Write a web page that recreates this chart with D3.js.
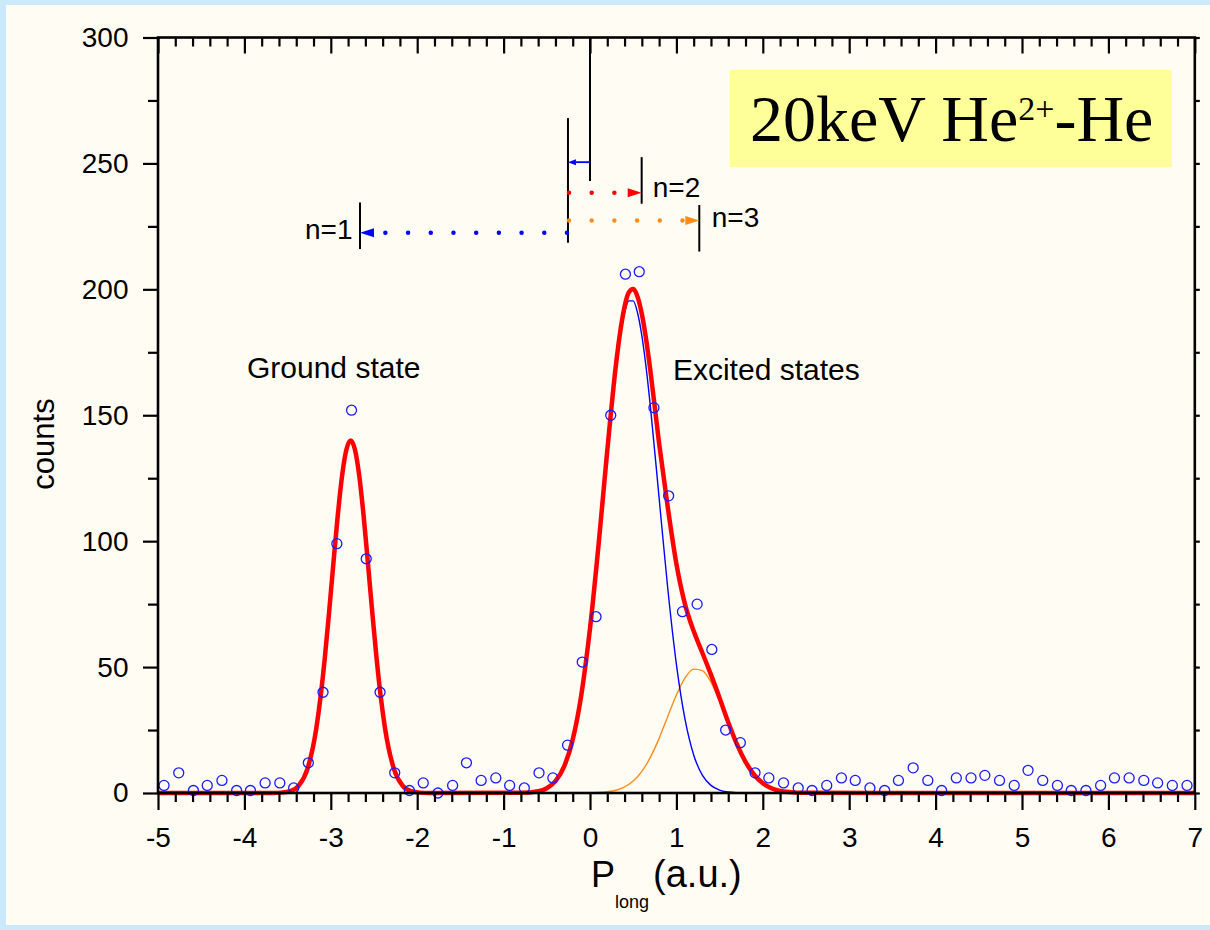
<!DOCTYPE html>
<html><head><meta charset="utf-8">
<script src="https://cdn.jsdelivr.net/npm/d3@7"></script>
<style>body{margin:0;background:#cce8fb;} svg{display:block}</style>
</head><body><svg id="c" width="1210" height="930"></svg>
<script>
// ---------- data ----------
const xTicks = [-5,-4,-3,-2,-1,0,1,2,3,4,5,6,7];
const yTicks = [0,50,100,150,200,250,300];

const pointX = [-4.93,-4.76,-4.59,-4.43,-4.26,-4.09,-3.93,-3.76,-3.59,-3.43,-3.26,-3.09,-2.93,-2.76,-2.59,-2.43,-2.26,-2.09,-1.93,-1.76,-1.59,-1.43,-1.26,-1.09,-0.93,-0.76,-0.59,-0.43,-0.26,-0.09,0.07,0.24,0.41,0.57,0.74,0.91,1.07,1.24,1.41,1.57,1.74,1.91,2.07,2.24,2.41,2.57,2.74,2.91,3.07,3.24,3.41,3.57,3.74,3.91,4.07,4.24,4.41,4.57,4.74,4.91,5.07,5.24,5.41,5.57,5.74,5.91,6.07,6.24,6.41,6.57,6.74,6.91];
const pointCounts = [3,8,1,3,5,1,1,4,4,2,12,40,99,152,93,40,8,1,4,0,3,12,5,6,3,2,8,6,19,52,70,150,206,207,153,118,72,75,57,25,20,8,6,4,2,1,3,6,5,2,1,5,10,5,1,6,6,7,5,3,9,5,3,1,1,3,6,6,5,4,3,3];

// total fit (thick red)
const fitX = [-5,-3.67,-3.57,-3.47,-3.37,-3.27,-3.17,-3.12,-3.07,-3.02,-2.97,-2.92,-2.87,-2.82,-2.77,-2.72,-2.67,-2.62,-2.57,-2.52,-2.47,-2.42,-2.37,-2.27,-2.17,-2.07,-1.97,-1.87,-0.8,-0.6,-0.5,-0.4,-0.3,-0.2,-0.1,0,0.1,0.2,0.3,0.35,0.4,0.45,0.5,0.55,0.6,0.65,0.7,0.8,0.9,1.0,1.1,1.2,1.3,1.4,1.5,1.6,1.7,1.8,1.9,2.0,2.1,2.2,2.3,2.4,2.5,7];
const fitTotal = [0,0.02,0.15,0.73,2.95,9.6,25.2,37.7,53.4,71.7,91.2,110.0,125.8,136.3,140,136.3,125.8,110.0,91.2,71.7,53.4,37.7,25.2,9.6,2.95,0.73,0.15,0.02,0.07,0.7,1.9,4.7,10.5,21.2,39.1,65.3,98.9,136.0,169.9,183.2,193.1,198.8,200.1,197.1,190.2,180.0,167.4,138.8,113.5,91.0,74.9,64.3,55.7,47.0,37.7,28.1,19.4,12.4,7.25,3.89,1.91,0.86,0.36,0.14,0.05,0];

// main excited-state component (thin blue)
const blueX = [-5,-0.8,-0.6,-0.5,-0.4,-0.3,-0.2,-0.1,0,0.1,0.2,0.3,0.35,0.4,0.45,0.5,0.55,0.6,0.65,0.7,0.8,0.9,1.0,1.1,1.2,1.3,1.4,1.5,1.6,1.7,1.8,1.9,2.0,7];
const blueCounts = [0,0.07,0.70,1.90,4.68,10.47,21.2,39.1,65.2,98.7,135.5,168.8,181.6,190.7,195.4,195.4,190.7,181.6,168.8,153.1,117.1,81.2,51.1,29.2,15.1,7.09,3.02,1.16,0.41,0.13,0.04,0.01,0,0];

// n>=3 component (thin orange)
const orangeX = [-5,0.0,0.1,0.2,0.3,0.4,0.5,0.6,0.7,0.8,0.9,1.0,1.1,1.2,1.3,1.4,1.5,1.6,1.7,1.8,1.9,2.0,2.1,2.2,2.3,2.4,2.5,2.6,7];
const orangeCounts = [0,0.07,0.18,0.47,1.11,2.39,4.73,8.58,14.26,21.7,30.4,38.9,45.7,49.2,48.6,44.0,36.5,27.7,19.3,12.4,7.24,3.89,1.91,0.86,0.36,0.14,0.05,0.015,0];

// annotation markers (vertical bars) and arrows
const markerX  = [0, -0.255, 0.598, -2.662, 1.265];
const markerLo = [243, 218.5, 234, 216, 215];
const markerHi = [300, 268, 252.5, 234.5, 233.5];
const arrowFrom = [0, -0.255, -0.255, -0.255];
const arrowTo   = [-0.255, 0.598, 1.265, -2.662];
const arrowY    = [250.5, 238.4, 227.3, 222.5];
const levelLabels = ["n=2", "n=3", "n=1"];
const levelLabelX = [0.726, 1.409, -3.299];
const levelLabelY = [236.8, 224.9, 219.9];
const stateLabels = ["Ground state", "Excited states"];
const stateLabelX = [-3.97, 0.96];
const stateLabelY = [164.8, 164.0];

// ---------- drawing ----------
const svg = d3.select('#c');
const FONT = "'Liberation Sans', Arial, Helvetica, sans-serif";
svg.append('rect').attr('width',1210).attr('height',930).attr('fill','#cce8fb');
svg.append('rect').attr('x',6).attr('y',5).attr('width',1204).attr('height',920).attr('fill','#fffcf3');

const x = d3.scaleLinear().domain([-5,7]).range([158,1194.8]);
const y = d3.scaleLinear().domain([0,300]).range([793,37.5]);

// label box
const box = svg.append('g');
box.append('rect').attr('x',730).attr('y',70).attr('width',442).attr('height',97).attr('fill','#ffff99');
const t = box.append('text').attr('x',750).attr('y',141).attr('font-family',"'Liberation Serif','Times New Roman',serif").attr('font-size',66).attr('fill','#000');
t.append('tspan').text('20keV He');
t.append('tspan').attr('font-size',34).attr('dy',-21).text('2+');
t.append('tspan').attr('dy',21).text('-He');

const line = d3.line().x(d=>x(d[0])).y(d=>y(d[1])).curve(d3.curveMonotoneX);
svg.append('path').datum(orangeX.map((v,i)=>[v,orangeCounts[i]])).attr('d',line)
  .attr('fill','none').attr('stroke','#ff8c1a').attr('stroke-width',1.4);
svg.append('path').datum(blueX.map((v,i)=>[v,blueCounts[i]])).attr('d',line)
  .attr('fill','none').attr('stroke','#0000ff').attr('stroke-width',1.4);
svg.append('path').datum(fitX.map((v,i)=>[v,fitTotal[i]])).attr('d',line)
  .attr('fill','none').attr('stroke','#ff0000').attr('stroke-width',4.5).attr('stroke-linejoin','round');

svg.append('g').selectAll('circle').data(pointX).join('circle')
  .attr('cx',d=>x(d)).attr('cy',(d,i)=>y(pointCounts[i])).attr('r',5)
  .attr('fill','none').attr('stroke','#1a1aff').attr('stroke-width',1.3);

// axes
const xMinor = d3.range(-5,7.001,0.2).filter(v=>Math.abs(v-Math.round(v))>1e-6);
const yMinor = d3.range(25,300,50);
const fmt = d => String(d);
function styleAxis(g){
  g.select('.domain').remove();
  g.selectAll('line').attr('stroke','#000').attr('stroke-width',2.2);
  g.selectAll('text').attr('font-family',FONT).attr('font-size',28).attr('fill','#000');
}
svg.append('g').attr('transform','translate(0,793)')
  .call(d3.axisBottom(x).tickValues(xMinor).tickSize(9).tickFormat('')).call(styleAxis);
svg.append('g').attr('transform','translate(0,793)')
  .call(d3.axisBottom(x).tickValues(xTicks).tickSize(17).tickPadding(17).tickFormat(fmt)).call(styleAxis);
svg.append('g').attr('transform','translate(0,37.5)')
  .call(d3.axisBottom(x).tickValues(xMinor).tickSize(9).tickFormat('')).call(styleAxis);
svg.append('g').attr('transform','translate(0,37.5)')
  .call(d3.axisBottom(x).tickValues(xTicks).tickSize(16).tickFormat('')).call(styleAxis);
svg.append('g').attr('transform','translate(158,0)')
  .call(d3.axisLeft(y).tickValues(yMinor).tickSize(10).tickFormat('')).call(styleAxis);
svg.append('g').attr('transform','translate(158,0)')
  .call(d3.axisLeft(y).tickValues(yTicks).tickSize(15).tickPadding(14.5).tickFormat(fmt)).call(styleAxis);
svg.append('g').attr('transform','translate(1194.8,0)')
  .call(d3.axisRight(y).tickValues(yTicks.concat(yMinor)).tickSize(5).tickFormat('')).call(styleAxis);
svg.append('rect').attr('x',158).attr('y',37.5).attr('width',1194.8-158).attr('height',793-37.5)
  .attr('fill','none').attr('stroke','#000').attr('stroke-width',2.6);

// axis titles
svg.append('text').attr('transform','translate(43,444) rotate(-90)').attr('text-anchor','middle')
  .attr('dominant-baseline','central').attr('font-family',FONT).attr('font-size',31).text('counts');
const xt = svg.append('text').attr('x',591).attr('y',887).attr('text-anchor','start')
  .attr('font-family',FONT).attr('font-size',36);
xt.append('tspan').text('P');
xt.append('tspan').attr('font-size',18).attr('dy',21).text('long');
xt.append('tspan').attr('dy',-21).attr('dx',4).attr('font-size',38).text('(a.u.)');

// annotations
const ann = svg.append('g');
ann.selectAll('line.mk').data(markerX).join('line').attr('class','mk')
  .attr('x1',d=>x(d)).attr('x2',d=>x(d))
  .attr('y1',(d,i)=>y(markerLo[i])).attr('y2',(d,i)=>y(markerHi[i]))
  .attr('stroke','#000').attr('stroke-width',2);
const arrowColors = ['#0000ff','#ff0000','#ff8c1a','#0000ff'];
arrowFrom.forEach((f,i)=>{
  const x0 = x(f), x1 = x(arrowTo[i]), yy = y(arrowY[i]);
  const dir = Math.sign(x1-x0);
  const solid = i===0;
  const hl = solid ? 8 : 14, hw = solid ? 3 : 4.5;
  if (solid) {
    ann.append('line').attr('x1',x0).attr('x2',x1 - dir*hl).attr('y1',yy).attr('y2',yy)
      .attr('stroke',arrowColors[i]).attr('stroke-width',1.8);
  } else {
    ann.append('line').attr('x1',x0+dir*1).attr('x2',x1 - dir*hl).attr('y1',yy).attr('y2',yy)
      .attr('stroke',arrowColors[i]).attr('stroke-width',4.5).attr('stroke-linecap','round')
      .attr('stroke-dasharray','0 22.7');
  }
  ann.append('path').attr('d',`M${x1},${yy}L${x1-dir*hl},${yy-hw}L${x1-dir*hl},${yy+hw}Z`)
    .attr('fill',arrowColors[i]);
});
ann.selectAll('text.lv').data(levelLabels).join('text').attr('class','lv')
  .attr('x',(d,i)=>x(levelLabelX[i])).attr('y',(d,i)=>y(levelLabelY[i]))
  .attr('font-family',FONT).attr('font-size',28).text(d=>d);
ann.selectAll('text.st').data(stateLabels).join('text').attr('class','st')
  .attr('x',(d,i)=>x(stateLabelX[i])).attr('y',(d,i)=>y(stateLabelY[i]))
  .attr('font-family',FONT).attr('font-size',30).text(d=>d);
</script></body></html>
